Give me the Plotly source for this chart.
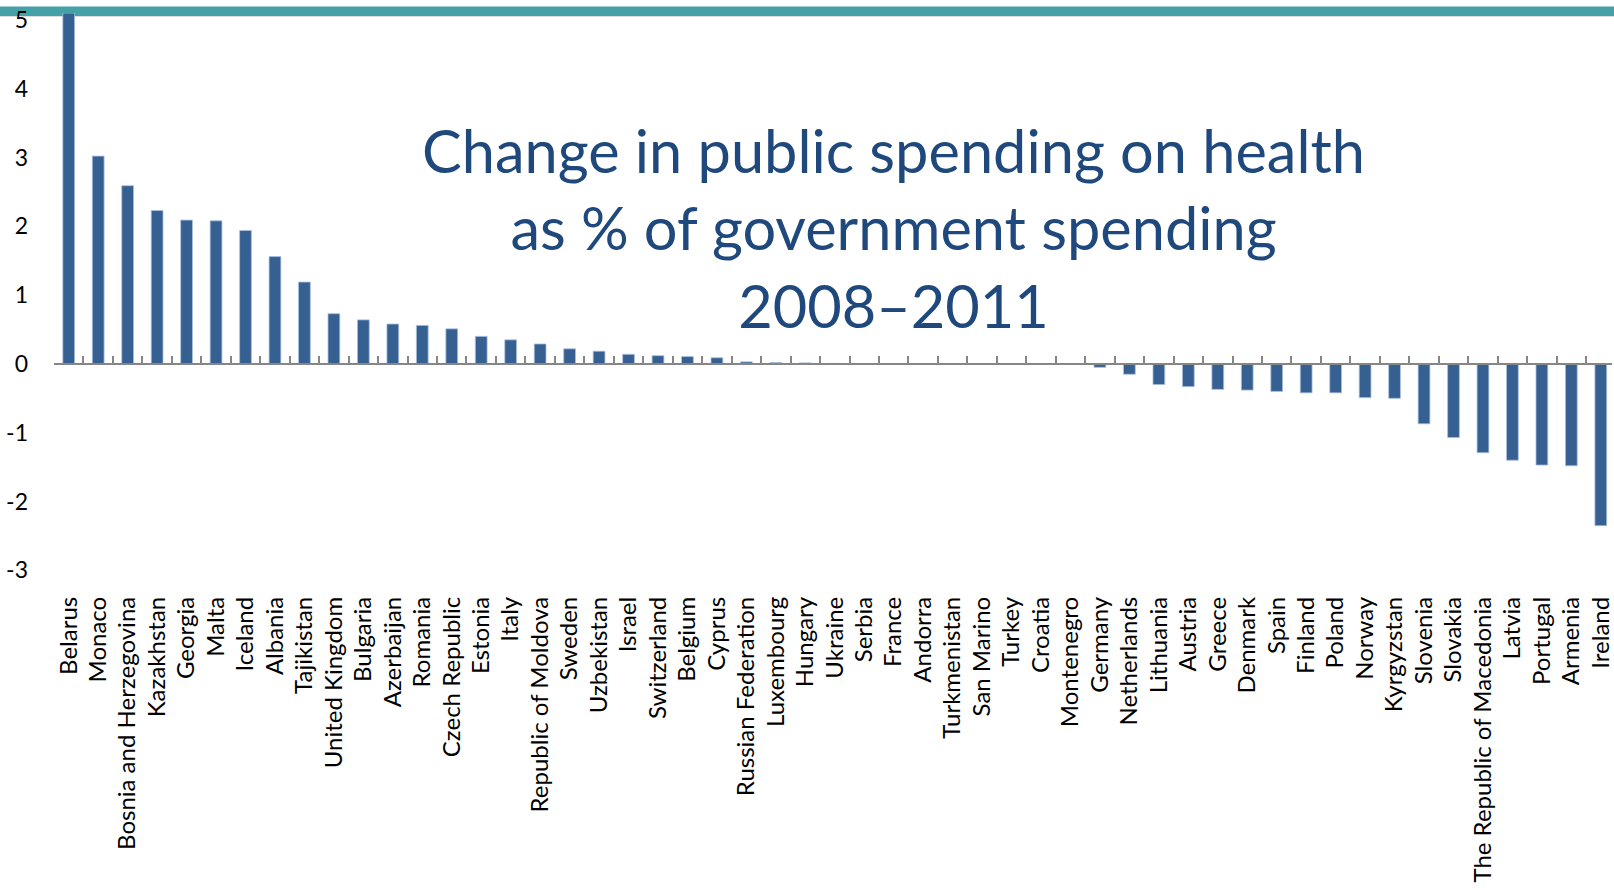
import plotly.graph_objects as go

countries = [
    "Belarus", "Monaco", "Bosnia and Herzegovina", "Kazakhstan", "Georgia", "Malta",
    "Iceland", "Albania", "Tajikistan", "United Kingdom", "Bulgaria", "Azerbaijan",
    "Romania", "Czech Republic", "Estonia", "Italy", "Republic of Moldova", "Sweden",
    "Uzbekistan", "Israel", "Switzerland", "Belgium", "Cyprus", "Russian Federation",
    "Luxembourg", "Hungary", "Ukraine", "Serbia", "France", "Andorra", "Turkmenistan",
    "San Marino", "Turkey", "Croatia", "Montenegro", "Germany", "Netherlands",
    "Lithuania", "Austria", "Greece", "Denmark", "Spain", "Finland", "Poland", "Norway",
    "Kyrgyzstan", "Slovenia", "Slovakia", "The Republic of Macedonia", "Latvia",
    "Portugal", "Armenia", "Ireland",
]
values = [
    5.10, 3.02, 2.59, 2.23, 2.09, 2.08, 1.94, 1.56, 1.19, 0.73, 0.64, 0.58,
    0.56, 0.51, 0.40, 0.35, 0.29, 0.22, 0.185, 0.14, 0.12, 0.107, 0.09, 0.03,
    0.02, 0.015, 0.008, 0, 0, 0, 0, 0, 0, 0, 0, -0.05, -0.15,
    -0.30, -0.33, -0.37, -0.38, -0.40, -0.42, -0.42, -0.49,
    -0.50, -0.87, -1.07, -1.29, -1.40, -1.47, -1.48, -2.35,
]
y_ticks = [-3, -2, -1, 0, 1, 2, 3, 4, 5]
y_tick_text = ["-3", "-2", "-1", "0", "1", "2", "3", "4", "5"]
title_lines = ["Change in public spending on health", "as % of government spending", "2008–2011"]

W, H = 1614, 890
Y_MIN, Y_MAX = -3.3, 5.1
M_L, M_R, M_T, M_B = 54, 0, 13, 299
PLOT_H = H - M_T - M_B
n = len(countries)
x_range = [-0.5, n - 0.62]

def px_to_paper_y(py):
    return (H - M_B - py) / PLOT_H

def px_to_paper_x(px):
    return (px - M_L) / (W - M_L - M_R)

FONT = "Lato"
fig = go.Figure()
fig.add_trace(go.Bar(
    x=countries, y=values,
    marker=dict(color="#366092", line=dict(color="#A9C0DE", width=0.8)),
    width=0.4, hoverinfo="x+y", showlegend=False,
))
# invisible companion trace so the zero-line category axis (x2) is drawn
fig.add_trace(go.Scatter(
    x=countries, y=values, xaxis="x2", yaxis="y",
    mode="markers", marker=dict(opacity=0), hoverinfo="skip", showlegend=False,
))

fig.update_layout(
    width=W, height=H,
    margin=dict(l=M_L, r=M_R, t=M_T, b=M_B, pad=0),
    paper_bgcolor="white", plot_bgcolor="rgba(0,0,0,0)",
    font=dict(family=FONT, color="black"),
    xaxis=dict(
        type="category", range=x_range, showline=False, showgrid=False, zeroline=False,
        ticks="", tickangle=-90, tickfont=dict(size=24, family=FONT, color="black"),
        ticklabelstandoff=0,
    ),
    xaxis2=dict(
        type="category", overlaying="x", anchor="free", side="bottom",
        position=(0 - Y_MIN) / (Y_MAX - Y_MIN),
        range=x_range, showline=True, linecolor="#868686", linewidth=2,
        ticks="inside", ticklen=7, tickwidth=1.5, tickcolor="#868686",
        tickson="boundaries", showticklabels=False, showgrid=False, zeroline=False,
    ),
    yaxis=dict(
        range=[Y_MIN, Y_MAX], tickmode="array", tickvals=y_ticks, ticktext=y_tick_text,
        showline=False, showgrid=False, zeroline=False, ticks="",
        tickfont=dict(size=23, family=FONT, color="black"), ticklabelstandoff=25,
    ),
    shapes=[
        dict(type="rect", xref="paper", yref="paper", layer="below",
             x0=px_to_paper_x(-5), x1=px_to_paper_x(W + 5),
             y0=px_to_paper_y(16), y1=px_to_paper_y(6.5),
             fillcolor="#43A1A7", line=dict(width=0)),
        dict(type="line", xref="paper", yref="paper", layer="below",
             x0=px_to_paper_x(-5), x1=px_to_paper_x(W + 5),
             y0=px_to_paper_y(16.5), y1=px_to_paper_y(16.5),
             line=dict(color="#DDDDDD", width=1)),
    ],
    annotations=[dict(
        xref="paper", yref="paper", x=px_to_paper_x(895), y=px_to_paper_y(227),
        xanchor="center", yanchor="middle", showarrow=False,
        text="<br>".join(title_lines), align="center",
        font=dict(family=FONT, size=59.5, color="#1F497D"),
    )],
)

fig.write_html("out.html")
